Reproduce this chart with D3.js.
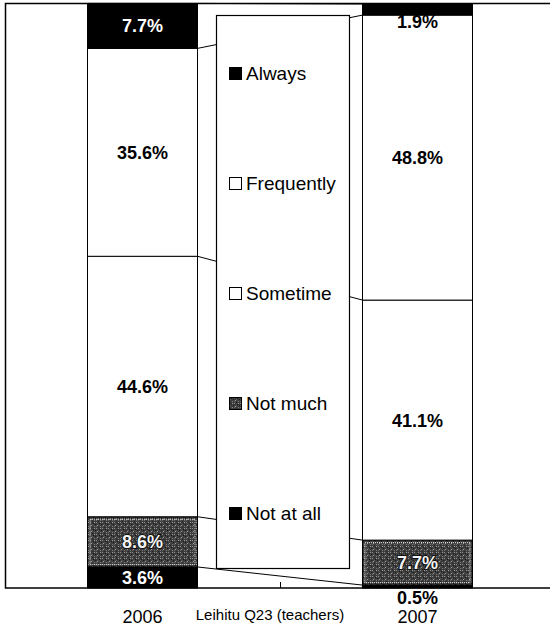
<!DOCTYPE html>
<html>
<head>
<meta charset="utf-8">
<script src="https://cdn.jsdelivr.net/npm/d3@7/dist/d3.min.js"></script>
<style>
  body { margin: 0; background: #fff; }
  svg text { font-family: "Liberation Sans", Arial, sans-serif; }
</style>
</head>
<body>
<div id="chart"></div>
<script>
(function(){
  "use strict";

  // years on the category axis
  var years = ["2006", "2007"];
  // answers, stacked from the bottom up
  var answers = ["Not at all", "Not much", "Sometime", "Frequently", "Always"];
  // percent of teachers per answer, one value per year
  var notAtAll   = [3.6, 0.5];
  var notMuch    = [8.6, 7.7];
  var sometime   = [44.6, 41.1];
  var frequently = [35.6, 48.8];
  var always     = [7.7, 1.9];
  // legend reads top to bottom
  var legendOrder = ["Always", "Frequently", "Sometime", "Not much", "Not at all"];
  var axisTitle = "Leihitu Q23 (teachers)";

  var width = 550, height = 628;
  var left = 5, right = 555, top = 4, bottom = 588;

  // build rows for d3.stack
  var seriesValues = [notAtAll, notMuch, sometime, frequently, always];
  var rows = years.map(function(y, i){
    var r = { year: y };
    answers.forEach(function(a, k){ r[a] = seriesValues[k][i]; });
    return r;
  });
  var stacked = d3.stack().keys(answers)(rows);

  var x = d3.scaleBand().domain(years).range([left, right])
      .paddingInner(0.6).paddingOuter(0.3);
  var y = d3.scaleLinear().domain([0, 100]).range([bottom, top]);

  var svg = d3.select("#chart").append("svg")
      .attr("width", width)
      .attr("height", height);

  // stipple pattern for "Not much"
  var defs = svg.append("defs");
  var pat = defs.append("pattern")
      .attr("id", "stip")
      .attr("patternUnits", "userSpaceOnUse")
      .attr("width", 6).attr("height", 6);
  pat.append("rect").attr("width", 6).attr("height", 6).attr("fill", "#3e3e3e");
  var dots = [[0,0,"#8f8f8f"],[3,1,"#151515"],[1,3,"#a0a0a0"],[4,4,"#7a7a7a"],[5,2,"#1a1a1a"],[2,5,"#222"],[0,4,"#666"],[4,0,"#999"],[2,2,"#5a5a5a"]];
  dots.forEach(function(d){
    pat.append("rect").attr("x", d[0]).attr("y", d[1]).attr("width", 1).attr("height", 1).attr("fill", d[2]);
  });

  var fills = {
    "Always": "#000",
    "Frequently": "#fff",
    "Sometime": "#fff",
    "Not much": "url(#stip)",
    "Not at all": "#000"
  };

  // plot area
  svg.append("rect")
      .attr("x", left + 0.5).attr("y", top - 0.5)
      .attr("width", right - left).attr("height", bottom - top + 0.5)
      .attr("fill", "#fff")
      .attr("stroke", "#000")
      .attr("stroke-width", 1.5);

  // series lines between the two bars (drawn first, legend covers them)
  var lineGroup = svg.append("g");
  stacked.forEach(function(s){
    lineGroup.append("line")
        .attr("x1", x(years[0]) + x.bandwidth())
        .attr("y1", y(s[0][1]))
        .attr("x2", x(years[1]))
        .attr("y2", y(s[1][1]))
        .attr("stroke", "#000")
        .attr("stroke-width", 1);
  });

  // bars
  var layer = svg.append("g").selectAll("g")
      .data(stacked)
      .enter().append("g");

  layer.selectAll("rect")
      .data(function(s){ return s.map(function(d){ return { key: s.key, d: d }; }); })
      .enter().append("rect")
      .attr("x", function(e){ return x(e.d.data.year); })
      .attr("y", function(e){ return y(e.d[1]); })
      .attr("width", x.bandwidth())
      .attr("height", function(e){ return y(e.d[0]) - y(e.d[1]); })
      .attr("fill", function(e){ return fills[e.key]; })
      .attr("stroke", "#000")
      .attr("stroke-width", 1);

  // light dotted inner edge on the stippled segments
  layer.filter(function(s){ return s.key === "Not much"; })
      .selectAll("rect.inner")
      .data(function(s){ return s; })
      .enter().append("rect")
      .attr("class", "inner")
      .attr("x", function(d){ return x(d.data.year) + 2.5; })
      .attr("y", function(d){ return y(d[1]) + 2.5; })
      .attr("width", x.bandwidth() - 5)
      .attr("height", function(d){ return y(d[0]) - y(d[1]) - 5; })
      .attr("fill", "none")
      .attr("stroke", "#ddd")
      .attr("stroke-width", 1)
      .attr("stroke-dasharray", "1,1");

  // tick between the two categories
  var mid = x(years[0]) + x.step() - x.step() * x.paddingOuter();
  svg.append("line")
      .attr("x1", mid + 0.5).attr("x2", mid + 0.5)
      .attr("y1", bottom - 6).attr("y2", bottom)
      .attr("stroke", "#000");

  // value labels
  svg.append("g").selectAll("g")
      .data(stacked)
      .enter().append("g")
      .selectAll("text")
      .data(function(s){ return s.map(function(d){ return { key: s.key, d: d }; }); })
      .enter().append("text")
      .attr("x", function(e){ return x(e.d.data.year) + x.bandwidth() / 2; })
      .attr("y", function(e){
        var h = y(e.d[0]) - y(e.d[1]);
        if (h < 14 && e.key === "Always") return y(e.d[1]) + 18;
        if (h < 14 && e.key === "Not at all") return bottom + 10;
        return (y(e.d[0]) + y(e.d[1])) / 2;
      })
      .attr("dy", "0.36em")
      .attr("text-anchor", "middle")
      .attr("font-size", 18)
      .attr("font-weight", "bold")
      .attr("fill", function(e){
        var h = y(e.d[0]) - y(e.d[1]);
        if (e.key === "Always" || e.key === "Not at all") return h < 14 ? "#000" : "#fff";
        if (e.key === "Not much") return "#f4f4f4";
        return "#000";
      })
      .attr("stroke", function(e){ return e.key === "Not much" ? "#111" : "none"; })
      .attr("stroke-width", 2)
      .attr("paint-order", "stroke")
      .text(function(e){ return d3.format(".1f")(e.d[1] - e.d[0]) + "%"; });

  // legend
  var legend = svg.append("g");
  legend.append("rect")
      .attr("x", 216.5).attr("y", 15.5)
      .attr("width", 133).attr("height", 553)
      .attr("fill", "#fff")
      .attr("stroke", "#000")
      .attr("stroke-width", 1.2);

  var ly = d3.scalePoint().domain(legendOrder).range([73, 513]);
  var item = legend.selectAll("g.item")
      .data(legendOrder)
      .enter().append("g")
      .attr("class", "item")
      .attr("transform", function(d){ return "translate(0," + ly(d) + ")"; });

  item.append("rect")
      .attr("x", 229.5).attr("y", -5.5)
      .attr("width", 12).attr("height", 12)
      .attr("fill", function(d){ return fills[d]; })
      .attr("stroke", "#000")
      .attr("stroke-width", 1);

  item.append("text")
      .attr("x", 246)
      .attr("y", 0)
      .attr("dy", "0.36em")
      .attr("font-size", 19)
      .attr("fill", "#000")
      .text(function(d){ return d; });

  // category axis
  var axis = svg.append("g")
      .attr("transform", "translate(0," + bottom + ")")
      .call(d3.axisBottom(x).tickSize(0).tickPadding(22));
  axis.select(".domain").remove();
  axis.selectAll("text")
      .attr("font-size", 18)
      .attr("font-family", "Liberation Sans, Arial, sans-serif")
      .attr("fill", "#000");

  svg.append("text")
      .attr("x", 270)
      .attr("y", 620)
      .attr("text-anchor", "middle")
      .attr("font-size", 15)
      .attr("fill", "#000")
      .text(axisTitle);
})();
</script>
</body>
</html>
